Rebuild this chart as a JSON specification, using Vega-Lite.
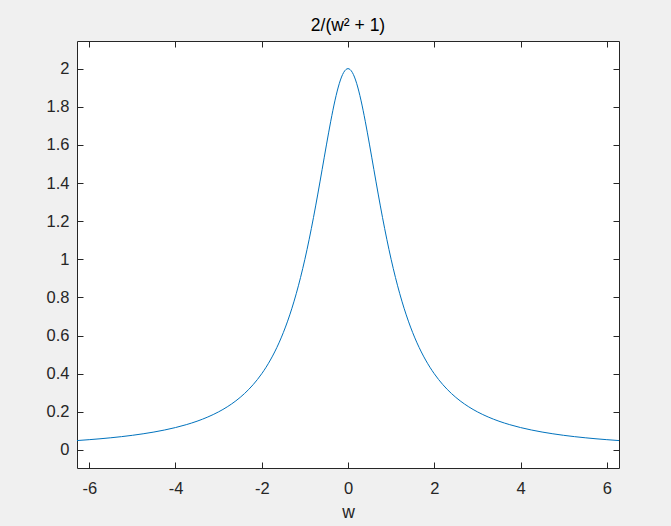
{
  "$schema": "https://vega.github.io/schema/vega-lite/v6.json",
  "width": 542,
  "height": 427,
  "autosize": {"type": "none"},
  "padding": {"left": 77, "top": 41, "right": 52, "bottom": 58},
  "background": "#F0F0F0",
  "config": {
    "view": {"fill": "white", "stroke": "#262626", "strokeWidth": 1},
    "font": "Liberation Sans",
    "axis": {
      "grid": false,
      "domain": false,
      "tickColor": "#262626",
      "tickSize": -6,
      "tickWidth": 1,
      "labelColor": "#262626",
      "labelFont": "Liberation Sans",
      "labelFontSize": 16.5,
      "titleFont": "Liberation Sans",
      "titleColor": "#262626",
      "titleFontSize": 17.5,
      "titleFontWeight": "normal"
    }
  },
  "title": {
    "text": "2/(w² + 1)",
    "font": "Liberation Sans",
    "fontSize": 17.5,
    "fontWeight": "normal",
    "color": "#000000",
    "anchor": "middle",
    "baseline": "bottom",
    "offset": 3,
    "dy": 15
  },
  "data": {
    "values": [
      {"w": -6.2832, "y": 0.0494}, {"w": -6.0, "y": 0.0541}, {"w": -5.75, "y": 0.0587}, {"w": -5.5, "y": 0.0640},
      {"w": -5.25, "y": 0.0700}, {"w": -5.0, "y": 0.0769}, {"w": -4.75, "y": 0.0849}, {"w": -4.5, "y": 0.0941},
      {"w": -4.25, "y": 0.1049}, {"w": -4.0, "y": 0.1176}, {"w": -3.75, "y": 0.1328}, {"w": -3.5, "y": 0.1509},
      {"w": -3.25, "y": 0.1730}, {"w": -3.0, "y": 0.2}, {"w": -2.8, "y": 0.2262}, {"w": -2.6, "y": 0.2577},
      {"w": -2.4, "y": 0.2959}, {"w": -2.2, "y": 0.3425}, {"w": -2.0, "y": 0.4}, {"w": -1.9, "y": 0.4338},
      {"w": -1.8, "y": 0.4717}, {"w": -1.7, "y": 0.5141}, {"w": -1.6, "y": 0.5618}, {"w": -1.5, "y": 0.6154},
      {"w": -1.4, "y": 0.6757}, {"w": -1.3, "y": 0.7435}, {"w": -1.2, "y": 0.8197}, {"w": -1.1, "y": 0.9050},
      {"w": -1.0, "y": 1.0}, {"w": -0.9, "y": 1.1050}, {"w": -0.8, "y": 1.2195}, {"w": -0.7, "y": 1.3423},
      {"w": -0.6, "y": 1.4706}, {"w": -0.5, "y": 1.6}, {"w": -0.4, "y": 1.7241}, {"w": -0.3, "y": 1.8349},
      {"w": -0.25, "y": 1.8824}, {"w": -0.2, "y": 1.9231}, {"w": -0.15, "y": 1.9560}, {"w": -0.1, "y": 1.9802},
      {"w": -0.05, "y": 1.9950}, {"w": 0.0, "y": 2.0}, {"w": 0.05, "y": 1.9950}, {"w": 0.1, "y": 1.9802},
      {"w": 0.15, "y": 1.9560}, {"w": 0.2, "y": 1.9231}, {"w": 0.25, "y": 1.8824}, {"w": 0.3, "y": 1.8349},
      {"w": 0.4, "y": 1.7241}, {"w": 0.5, "y": 1.6}, {"w": 0.6, "y": 1.4706}, {"w": 0.7, "y": 1.3423},
      {"w": 0.8, "y": 1.2195}, {"w": 0.9, "y": 1.1050}, {"w": 1.0, "y": 1.0}, {"w": 1.1, "y": 0.9050},
      {"w": 1.2, "y": 0.8197}, {"w": 1.3, "y": 0.7435}, {"w": 1.4, "y": 0.6757}, {"w": 1.5, "y": 0.6154},
      {"w": 1.6, "y": 0.5618}, {"w": 1.7, "y": 0.5141}, {"w": 1.8, "y": 0.4717}, {"w": 1.9, "y": 0.4338},
      {"w": 2.0, "y": 0.4}, {"w": 2.2, "y": 0.3425}, {"w": 2.4, "y": 0.2959}, {"w": 2.6, "y": 0.2577},
      {"w": 2.8, "y": 0.2262}, {"w": 3.0, "y": 0.2}, {"w": 3.25, "y": 0.1730}, {"w": 3.5, "y": 0.1509},
      {"w": 3.75, "y": 0.1328}, {"w": 4.0, "y": 0.1176}, {"w": 4.25, "y": 0.1049}, {"w": 4.5, "y": 0.0941},
      {"w": 4.75, "y": 0.0849}, {"w": 5.0, "y": 0.0769}, {"w": 5.25, "y": 0.0700}, {"w": 5.5, "y": 0.0640},
      {"w": 5.75, "y": 0.0587}, {"w": 6.0, "y": 0.0541}, {"w": 6.2832, "y": 0.0494}
    ]
  },
  "layer": [
    {
      "mark": {"type": "line", "color": "#0072BD", "strokeWidth": 1, "interpolate": "monotone", "clip": true},
      "encoding": {
        "x": {
          "field": "w", "type": "quantitative",
          "scale": {"domain": [-6.2832, 6.2832], "nice": false, "zero": false},
          "axis": {"orient": "bottom", "values": [-6, -4, -2, 0, 2, 4, 6], "labelExpr": "toString(datum.value)", "title": "w", "labelPadding": 26, "titleY": 44, "titleBaseline": "middle", "labelBaseline": "middle", "labelFlush": false}
        },
        "y": {
          "field": "y", "type": "quantitative",
          "scale": {"domain": [-0.0945, 2.145], "nice": false, "zero": false},
          "axis": {"orient": "left", "values": [0, 0.2, 0.4, 0.6, 0.8, 1, 1.2, 1.4, 1.6, 1.8, 2], "labelExpr": "toString(datum.value)", "title": null, "labelPadding": 14, "labelFlush": false}
        }
      }
    },
    {
      "mark": {"type": "line", "opacity": 0},
      "encoding": {
        "x": {
          "field": "w", "type": "quantitative",
          "scale": {"domain": [-6.2832, 6.2832], "nice": false, "zero": false},
          "axis": {"orient": "top", "values": [-6, -4, -2, 0, 2, 4, 6], "title": null, "labels": false}
        },
        "y": {
          "field": "y", "type": "quantitative",
          "scale": {"domain": [-0.0945, 2.145], "nice": false, "zero": false},
          "axis": {"orient": "right", "values": [0, 0.2, 0.4, 0.6, 0.8, 1, 1.2, 1.4, 1.6, 1.8, 2], "title": null, "labels": false}
        }
      }
    }
  ],
  "resolve": {"axis": {"x": "independent", "y": "independent"}}
}
